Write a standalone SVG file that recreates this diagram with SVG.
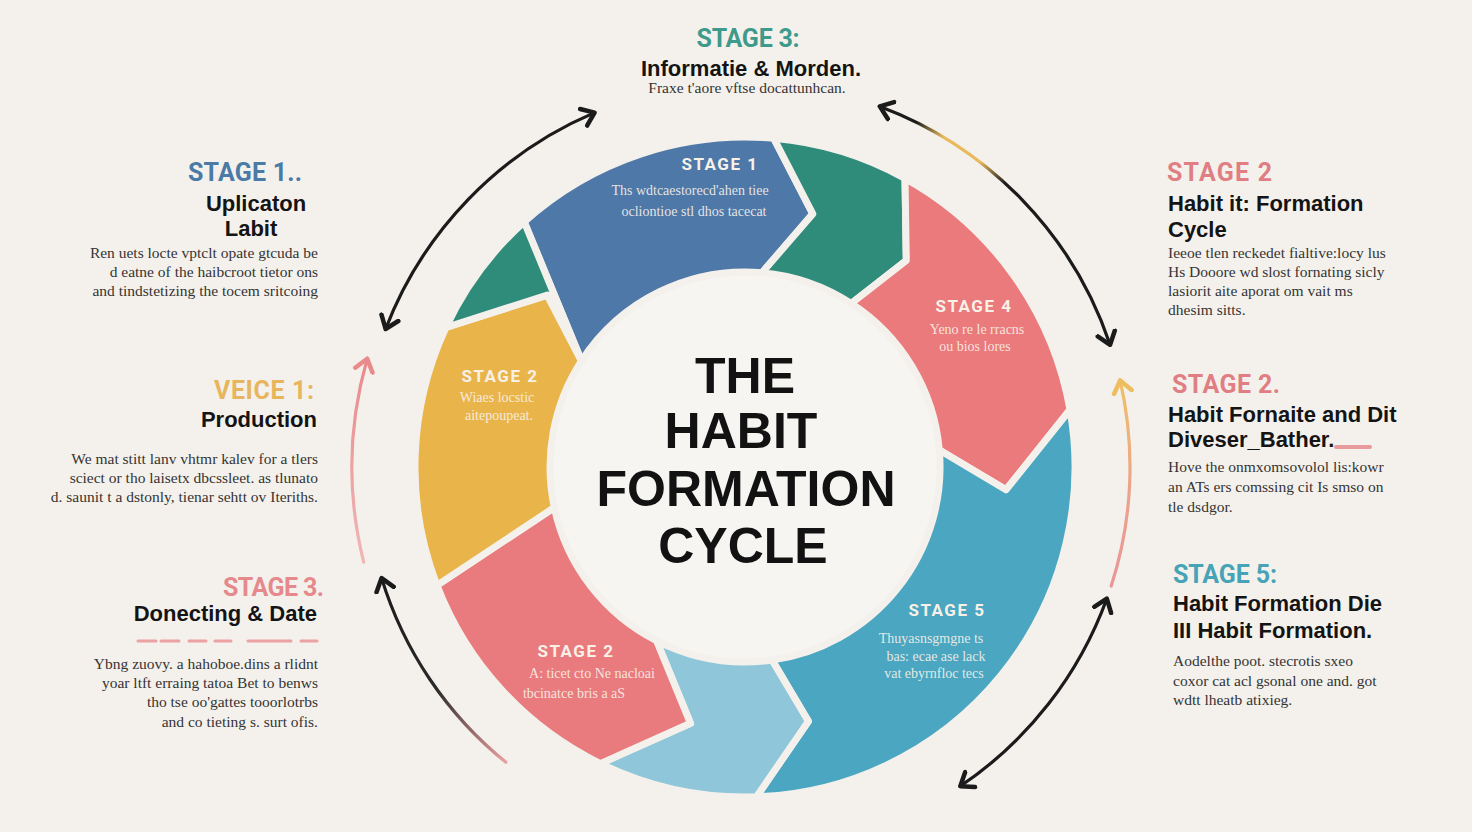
<svg xmlns="http://www.w3.org/2000/svg" width="1472" height="832" viewBox="0 0 1472 832">
<defs>
<style>
.seg{stroke:#f4f1ec;stroke-width:7;stroke-linejoin:round}
.st{font-family:Roboto,"Liberation Sans",Arial,sans-serif;font-weight:700;font-size:17px;letter-spacing:1.5px;fill:#f8f1e8;text-anchor:middle}
.sd{font-family:"Liberation Serif","DejaVu Serif",serif;font-size:14px;fill:#f8f1e8;fill-opacity:.9;text-anchor:middle}
.hd{font-family:Roboto,"Liberation Sans",Arial,sans-serif;font-weight:700;font-size:25px}
.tt{font-family:"Liberation Sans",Arial,sans-serif;font-weight:700;font-size:22px;fill:#141414}
.ds{font-family:"Liberation Serif","DejaVu Serif",serif;font-size:15.5px;fill:#343434}
.ctr{font-family:"Liberation Sans",Arial,sans-serif;font-weight:700;font-size:50px;fill:#121212;text-anchor:middle}
.cn{fill:none;stroke-width:3.2;stroke-linecap:round}
</style>
<marker id="ahK" viewBox="0 0 24 24" refX="14" refY="12" markerWidth="24" markerHeight="24" markerUnits="userSpaceOnUse" orient="auto-start-reverse"><path d="M2 3 L14 12 L2 21" fill="none" stroke="#1b1b1b" stroke-width="4.5" stroke-linecap="round" stroke-linejoin="round"/></marker>
<marker id="ahY" viewBox="0 0 24 24" refX="14" refY="12" markerWidth="24" markerHeight="24" markerUnits="userSpaceOnUse" orient="auto-start-reverse"><path d="M2 3 L14 12 L2 21" fill="none" stroke="#eebd60" stroke-width="4.5" stroke-linecap="round" stroke-linejoin="round"/></marker>
<marker id="ahP" viewBox="0 0 24 24" refX="14" refY="12" markerWidth="24" markerHeight="24" markerUnits="userSpaceOnUse" orient="auto-start-reverse"><path d="M2 3 L14 12 L2 21" fill="none" stroke="#e98a8c" stroke-width="4.5" stroke-linecap="round" stroke-linejoin="round"/></marker>
<linearGradient id="gTR" gradientUnits="userSpaceOnUse" x1="880" y1="106" x2="1110" y2="345">
<stop offset="0" stop-color="#1b1b1b"/><stop offset="0.11" stop-color="#1b1b1b"/><stop offset="0.2" stop-color="#e9b95c"/><stop offset="0.33" stop-color="#e9b95c"/><stop offset="0.43" stop-color="#1b1b1b"/><stop offset="1" stop-color="#1b1b1b"/>
</linearGradient>
<linearGradient id="gR" gradientUnits="userSpaceOnUse" x1="1120" y1="380" x2="1111" y2="586">
<stop offset="0" stop-color="#efc166"/><stop offset="0.5" stop-color="#eba58a"/><stop offset="1" stop-color="#e9959a"/>
</linearGradient>
<linearGradient id="gL" gradientUnits="userSpaceOnUse" x1="367" y1="359" x2="364" y2="562">
<stop offset="0" stop-color="#e98a8c"/><stop offset="1" stop-color="#f0b6b6"/>
</linearGradient>
<linearGradient id="gBL" gradientUnits="userSpaceOnUse" x1="382" y1="578" x2="506" y2="762">
<stop offset="0" stop-color="#1b1b1b"/><stop offset="0.55" stop-color="#2a2a2a"/><stop offset="1" stop-color="#eaa0a0"/>
</linearGradient>
</defs>
<rect x="0" y="0" width="1472" height="832" fill="#f4f1ec"/>

<g id="ring">
<circle cx="745" cy="467" r="192" fill="#f7f5f2"/>
<g id="seg-blue">
<path class="seg" fill="#4e78a8" d="M524.2 221.8 A330 330 0 0 1 773.8 138.3 L812.8 213.9 L762.0 272.7 A195 195 0 0 0 581.5 360.8 Z"/>
<text class="st" x="720" y="170">STAGE 1</text>
<text class="sd" x="690" y="195">Ths wdtcaestorecd'ahen tiee</text>
<text class="sd" x="694" y="216">ocliontioe  stl dhos tacecat</text>
</g>
<g id="seg-green">
<path class="seg" fill="#2f8c7a" d="M773.8 138.3 A330 330 0 0 1 905.0 178.4 L906.3 260.5 L851.2 303.5 A195 195 0 0 0 762.0 272.7 L812.8 213.9 Z"/>
</g>
<g id="seg-pink4">
<path class="seg" fill="#ea7a7b" d="M905.0 178.4 A330 330 0 0 1 1070.0 409.7 L1006.0 489.8 L939.3 450.0 A195 195 0 0 0 851.2 303.5 L906.3 260.5 Z"/>
<text class="st" x="974" y="312">STAGE 4</text>
<text class="sd" x="977" y="334">Yeno re le rracns</text>
<text class="sd" x="975" y="351">ou bios lores</text>
</g>
<g id="seg-teal">
<path class="seg" fill="#4aa6c1" d="M1070.0 409.7 A330 330 0 0 1 756.5 796.8 L808.4 721.2 L772.1 660.1 A195 195 0 0 0 939.3 450.0 L1006.0 489.8 Z"/>
<text class="st" x="947" y="616">STAGE 5</text>
<text class="sd" x="931" y="643">Thuyasnsgmgne ts</text>
<text class="sd" x="936" y="661">bas: ecae ase lack</text>
<text class="sd" x="934" y="678">vat ebyrnfloc tecs</text>
</g>
<g id="seg-lightblue">
<path class="seg" fill="#8fc6d9" d="M756.5 796.8 A330 330 0 0 1 600.3 763.6 L690.5 723.3 L656.5 640.7 A195 195 0 0 0 772.1 660.1 L808.4 721.2 Z"/>
</g>
<g id="seg-pink2">
<path class="seg" fill="#e97b7e" d="M600.3 763.6 A330 330 0 0 1 436.9 585.3 L554.3 507.5 A195 195 0 0 0 656.5 640.7 L690.5 723.3 Z"/>
<text class="st" x="576" y="657">STAGE 2</text>
<text class="sd" x="592" y="678">A: ticet cto Ne nacloai</text>
<text class="sd" x="574" y="698">tbcinatce bris a aS</text>
</g>
<g id="seg-yellow">
<path class="seg" fill="#e9b54b" d="M436.9 585.3 A330 330 0 0 1 445.9 327.5 L547.3 295.1 L581.5 360.8 A195 195 0 0 0 554.3 507.5 Z"/>
<text class="st" x="500" y="382">STAGE 2</text>
<text class="sd" x="497" y="402">Wiaes locstic</text>
<text class="sd" x="499" y="420">aitepoupeat.</text>
</g>
<g id="seg-green2">
<path class="seg" fill="#2f8c7a" d="M445.9 327.5 A330 330 0 0 1 524.2 221.8 L581.5 360.8 L547.3 295.1 Z"/>
</g>
</g>

<g id="center-title">
<text class="ctr" x="745" y="393">THE</text>
<text class="ctr" x="741" y="448">HABIT</text>
<text class="ctr" x="746" y="506">FORMATION</text>
<text class="ctr" x="743" y="563">CYCLE</text>
</g>

<g id="connectors">
<path class="cn" stroke="#1b1b1b" marker-start="url(#ahK)" marker-end="url(#ahK)" d="M385.6 329.0 A385 385 0 0 1 594.6 112.6"/>
<path class="cn" stroke="url(#gTR)" marker-start="url(#ahK)" marker-end="url(#ahK)" d="M879.8 106.4 A385 385 0 0 1 1110.1 344.8"/>
<path class="cn" stroke="url(#gR)" marker-start="url(#ahY)" d="M1120.1 380.4 A385 385 0 0 1 1111.2 586.0"/>
<path class="cn" stroke="#1b1b1b" marker-start="url(#ahK)" marker-end="url(#ahK)" d="M1106.8 598.7 A385 385 0 0 1 960.3 786.2"/>
<path class="cn" stroke="url(#gL)" marker-end="url(#ahP)" d="M363.7 562.1 A393 393 0 0 1 367.2 358.7"/>
<path class="cn" stroke="url(#gBL)" marker-end="url(#ahK)" d="M505.9 762.3 A380 380 0 0 1 381.6 578.1"/>
</g>

<g id="label-top-stage3">
<text class="hd" x="748" y="47" fill="#3e9a8b" text-anchor="middle" textLength="103">STAGE 3:</text>
<text class="tt" x="751" y="76" text-anchor="middle">Informatie &amp; Morden.</text>
<text class="ds" x="747" y="93" text-anchor="middle" font-size="13.5">Fraxe t'aore vftse docattunhcan.</text>
</g>

<g id="label-left-stage1" text-anchor="end">
<text class="hd" x="302" y="181" fill="#4a7aa6" textLength="114">STAGE 1..</text>
<text class="tt" x="256" y="211" text-anchor="middle" font-size="24.5">Uplicaton</text>
<text class="tt" x="251" y="236" text-anchor="middle" font-size="24.5">Labit</text>
<text class="ds" x="318" y="258">Ren uets locte vptclt  opate gtcuda be</text>
<text class="ds" x="318" y="277">d eatne of the haibcroot tietor ons</text>
<text class="ds" x="318" y="296">and tindstetizing the tocem sritcoing</text>
</g>

<g id="label-left-veice1" text-anchor="end">
<text class="hd" x="314" y="399" fill="#e7b55c" textLength="100">VEICE 1:</text>
<text class="tt" x="317" y="427" font-size="21.5">Production</text>
<text class="ds" x="318" y="464">We mat stitt lanv vhtmr kalev for a tlers</text>
<text class="ds" x="318" y="483">sciect or tho laisetx dbcssleet. as  tlunato</text>
<text class="ds" x="318" y="502">d. saunit t a dstonly, tienar sehtt ov Iteriths.</text>
</g>

<g id="label-left-stage3" text-anchor="end">
<text class="hd" x="324" y="596" fill="#e5898c" textLength="101">STAGE 3.</text>
<text class="tt" x="317" y="621" font-size="21.5">Donecting &amp; Date</text>
<path d="M138 641H156M161 641H179M189 641H206M215 641H231M248 641H291M301 641H317" stroke="#eba2a2" stroke-width="3" stroke-linecap="round" fill="none"/>
<text class="ds" x="318" y="669">Ybng zuovy. a hahoboe.dins a rlidnt</text>
<text class="ds" x="318" y="688">yoar ltft erraing tatoa Bet to benws</text>
<text class="ds" x="318" y="707">tho tse oo'gattes tooorlotrbs</text>
<text class="ds" x="318" y="727">and co tieting s. surt ofis.</text>
</g>

<g id="label-right-stage2a">
<text class="hd" x="1167" y="181" fill="#e07e83" textLength="105">STAGE 2</text>
<text class="tt" x="1168" y="211" font-size="22.5">Habit it: Formation</text>
<text class="tt" x="1168" y="237" font-size="22.5">Cycle</text>
<text class="ds" x="1168" y="258">Ieeoe tlen reckedet fialtive:locy lus</text>
<text class="ds" x="1168" y="277">Hs  Dooore wd slost fornating sicly</text>
<text class="ds" x="1168" y="296">lasiorit aite aporat om vait ms</text>
<text class="ds" x="1168" y="315">dhesim sitts.</text>
</g>

<g id="label-right-stage2b">
<text class="hd" x="1172" y="393" fill="#e07e83" textLength="108">STAGE 2.</text>
<text class="tt" x="1168" y="422" font-size="22.5">Habit Fornaite and Dit</text>
<text class="tt" x="1168" y="447" font-size="21">Diveser_Bather.</text>
<path d="M1336 447H1370" stroke="#e89a9c" stroke-width="4" stroke-linecap="round"/>
<text class="ds" x="1168" y="472">Hove the onmxomsovolol lis:kowr</text>
<text class="ds" x="1168" y="492">an ATs ers comssing cit Is smso on</text>
<text class="ds" x="1168" y="512">tle dsdgor.</text>
</g>

<g id="label-right-stage5">
<text class="hd" x="1173" y="583" fill="#47a3b6" textLength="104">STAGE 5:</text>
<text class="tt" x="1173" y="611" font-size="21.5">Habit Formation Die</text>
<text class="tt" x="1173" y="638" font-size="20.5">III Habit Formation.</text>
<text class="ds" x="1173" y="666">Aodelthe poot. stecrotis sxeo</text>
<text class="ds" x="1173" y="686">coxor cat acl gsonal one and. got</text>
<text class="ds" x="1173" y="705">wdtt  lheatb atixieg.</text>
</g>
</svg>
